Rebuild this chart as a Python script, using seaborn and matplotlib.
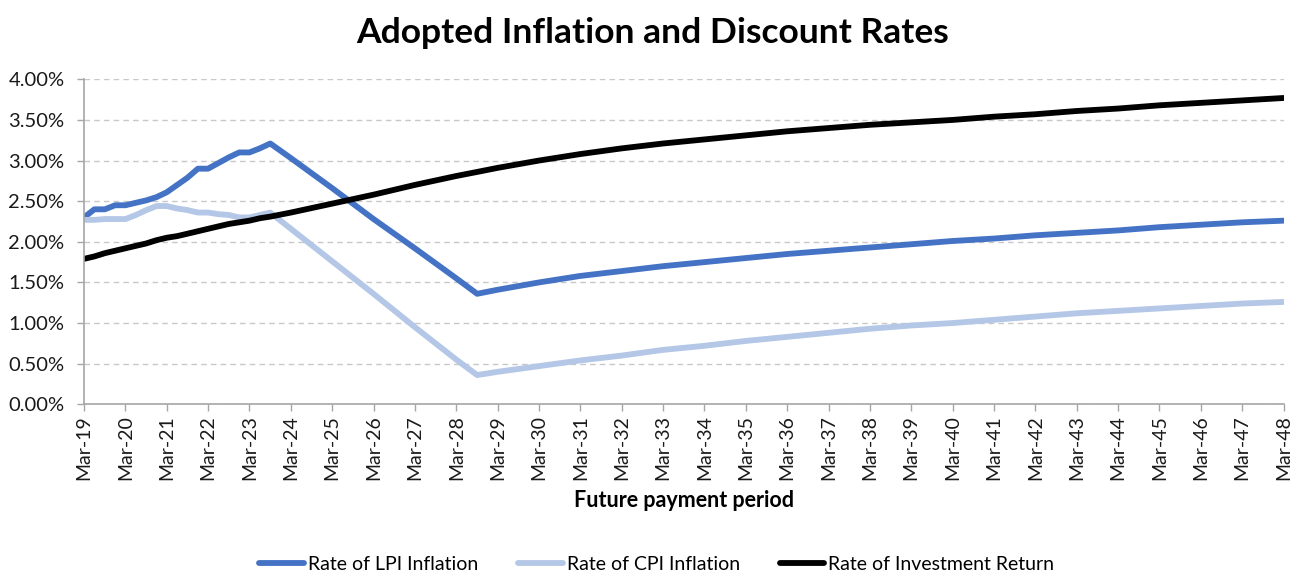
import matplotlib
matplotlib.use("Agg")
import matplotlib.pyplot as plt
import matplotlib.ticker as mticker
import pandas as pd
import seaborn as sns

# Quarterly to start with, yearly once the curves settle down
periods = [
    "Mar-19", "Jun-19", "Sep-19", "Dec-19", "Mar-20", "Jun-20", "Sep-20", "Dec-20",
    "Mar-21", "Jun-21", "Sep-21", "Dec-21", "Mar-22", "Jun-22", "Sep-22", "Dec-22",
    "Mar-23", "Jun-23", "Sep-23", "Mar-24", "Mar-25", "Mar-26", "Mar-27", "Mar-28",
    "Sep-28", "Mar-29", "Mar-30", "Mar-31", "Mar-32", "Mar-33", "Mar-34", "Mar-35",
    "Mar-36", "Mar-37", "Mar-38", "Mar-39", "Mar-40", "Mar-41", "Mar-42", "Mar-43",
    "Mar-44", "Mar-45", "Mar-46", "Mar-47", "Mar-48",
]

lpi_rate = [
    2.30, 2.40, 2.40, 2.45, 2.45, 2.48, 2.51, 2.55,
    2.61, 2.70, 2.79, 2.90, 2.90, 2.97, 3.04, 3.10,
    3.10, 3.15, 3.21, 3.03, 2.66, 2.28, 1.92, 1.55,
    1.36, 1.41, 1.50, 1.58, 1.64, 1.70, 1.75, 1.80,
    1.85, 1.89, 1.93, 1.97, 2.01, 2.04, 2.08, 2.11,
    2.14, 2.18, 2.21, 2.24, 2.26,
]

cpi_rate = [
    2.27, 2.27, 2.28, 2.28, 2.28, 2.33, 2.39, 2.44,
    2.44, 2.41, 2.39, 2.36, 2.36, 2.34, 2.33, 2.30,
    2.30, 2.33, 2.36, 2.16, 1.76, 1.36, 0.95, 0.55,
    0.36, 0.40, 0.47, 0.54, 0.60, 0.67, 0.72, 0.78,
    0.83, 0.88, 0.93, 0.97, 1.00, 1.04, 1.08, 1.12,
    1.15, 1.18, 1.21, 1.24, 1.26,
]

investment_return = [
    1.79, 1.82, 1.86, 1.89, 1.92, 1.95, 1.98, 2.02,
    2.05, 2.07, 2.10, 2.13, 2.16, 2.19, 2.22, 2.24,
    2.26, 2.29, 2.31, 2.36, 2.47, 2.58, 2.70, 2.81,
    2.86, 2.91, 3.00, 3.08, 3.15, 3.21, 3.26, 3.31,
    3.36, 3.40, 3.44, 3.47, 3.50, 3.54, 3.57, 3.61,
    3.64, 3.68, 3.71, 3.74, 3.77,
]

tick_labels = [f"Mar-{yy}" for yy in range(19, 49)]
series_names = ["Rate of LPI Inflation", "Rate of CPI Inflation", "Rate of Investment Return"]
colors = ["#4472C4", "#B4C7E7", "#000000"]

frames = []
for name, vals in zip(series_names, [lpi_rate, cpi_rate, investment_return]):
    frames.append(pd.DataFrame({"period": pd.to_datetime(periods, format="%b-%y"),
                                "rate": vals, "series": name}))
df = pd.concat(frames, ignore_index=True)

sns.set_theme(style="white")
plt.rcParams["font.family"] = ["Lato", "DejaVu Sans"]
plt.rcParams["text.color"] = "black"

fig = plt.figure(figsize=(13.06, 5.73), dpi=100)
ax = fig.add_axes([0.0643, 0.2944, 0.9185, 0.5672])

sns.lineplot(data=df, x="period", y="rate", hue="series", hue_order=series_names,
             palette=dict(zip(series_names, colors)), linewidth=4.2, ax=ax, legend=True)

tick_dates = pd.to_datetime(tick_labels, format="%b-%y")
ax.set_xlim(tick_dates[0], tick_dates[-1])
ax.set_xticks(tick_dates)
ax.set_xticklabels(tick_labels, rotation=90, fontsize=14, color="#1a1a1a")
ax.set_ylim(0, 4)
ax.set_yticks([i * 0.5 for i in range(9)])
ax.yaxis.set_major_formatter(mticker.FuncFormatter(lambda v, p: f"{v:.2f}%"))
ax.tick_params(axis="y", labelsize=14.5, labelcolor="#1a1a1a", length=5, width=1,
               color="#A6A6A6", direction="out", left=True, pad=9)
ax.tick_params(axis="x", length=5, width=1, color="#A6A6A6", direction="out", bottom=True, pad=3)

ax.grid(axis="y", linestyle=(0, (4, 3)), color="#C8C8C8", linewidth=1)
ax.set_axisbelow(True)
for side in ["top", "right"]:
    ax.spines[side].set_visible(False)
for side in ["left", "bottom"]:
    ax.spines[side].set_color("#A6A6A6")
    ax.spines[side].set_linewidth(1.2)

ax.set_ylabel("")
ax.set_xlabel("Future payment period", fontsize=15.5, fontweight="bold", labelpad=7, color="black")
fig.suptitle("Adopted Inflation and Discount Rates", fontsize=25.5, fontweight="bold", y=0.97,
             color="black")

handles, labels = ax.get_legend_handles_labels()
ax.get_legend().remove()
fig.legend(handles, labels, loc="lower center", bbox_to_anchor=(0.503, -0.03), ncol=3,
           frameon=False, fontsize=14, handlelength=2.3, handletextpad=0.2, columnspacing=2.05)

fig.savefig("out.png", dpi=100)
